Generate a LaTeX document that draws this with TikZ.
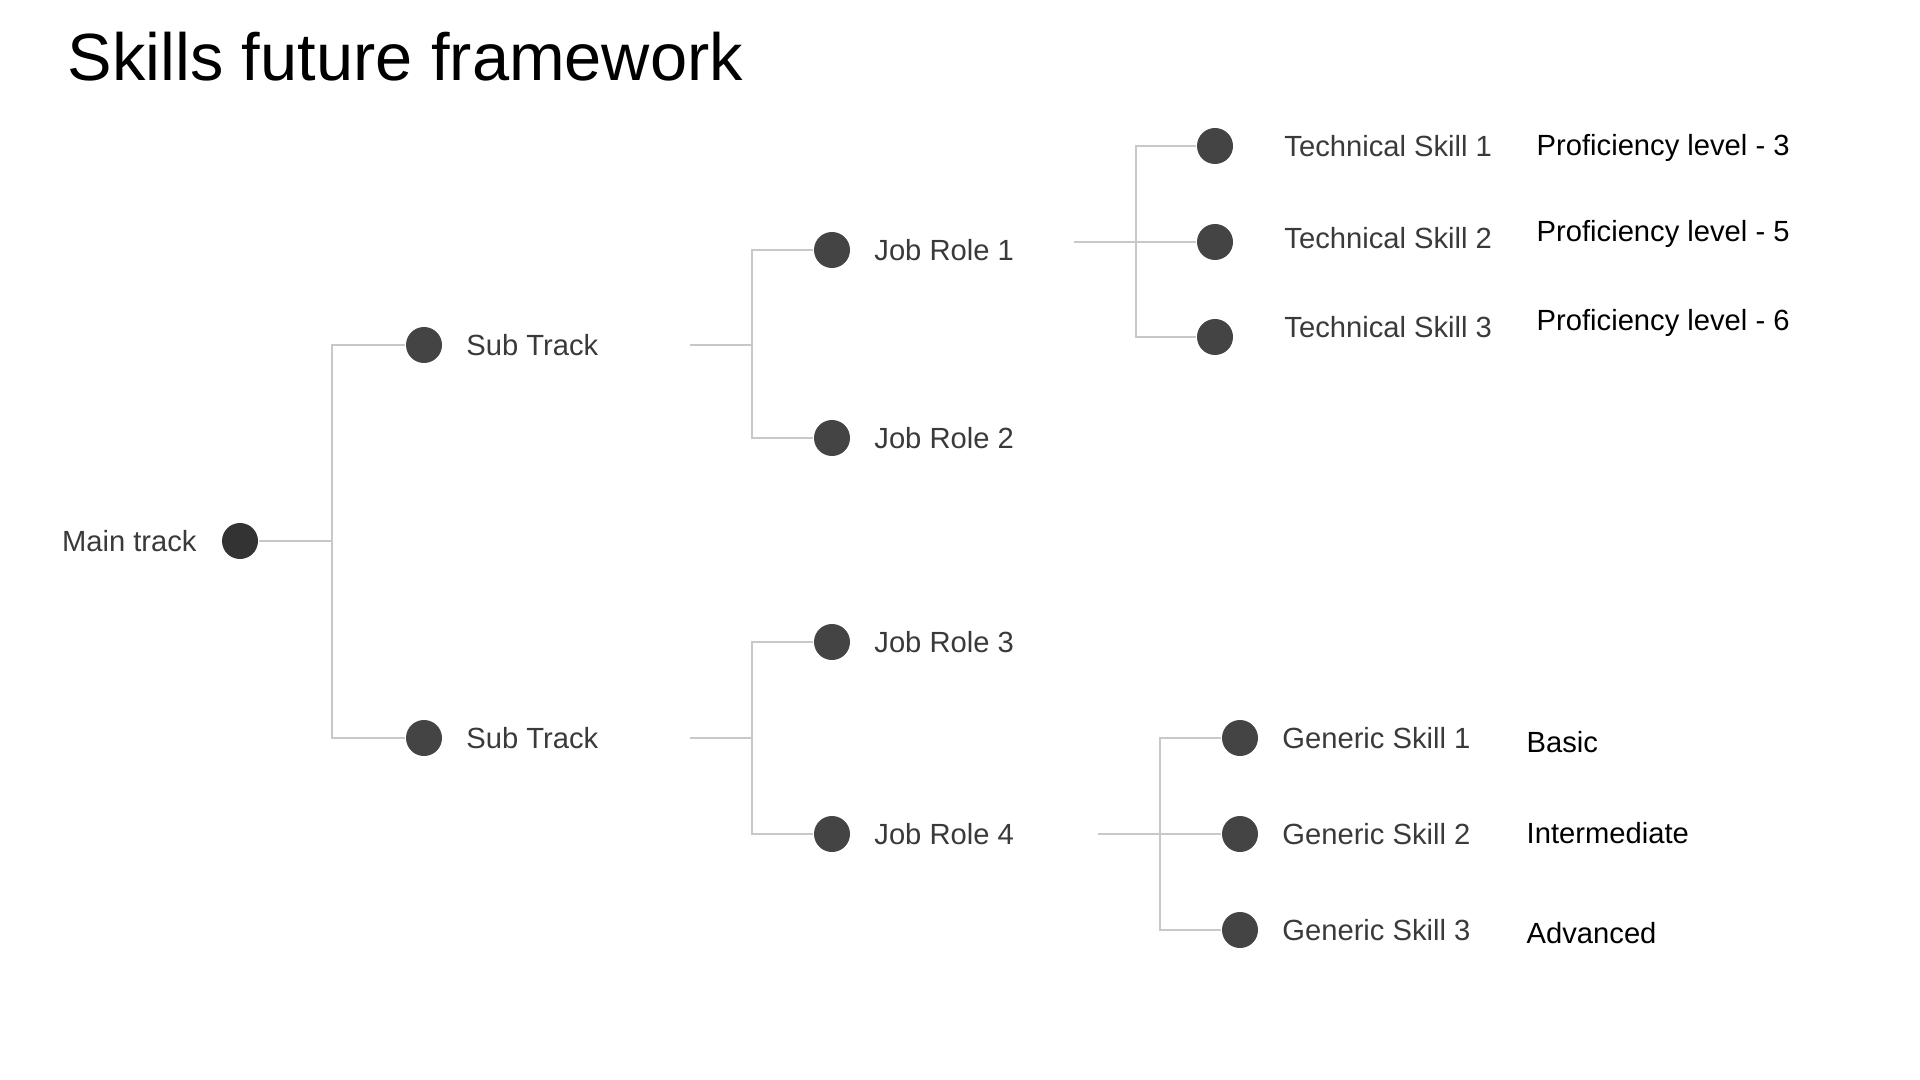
\documentclass[tikz,border=0pt]{standalone}
\usepackage{fontspec}
\setmainfont{Liberation Sans}
\usepackage{tikz}
\usetikzlibrary{positioning}
\definecolor{dotgray}{HTML}{444444}
\definecolor{dotdark}{HTML}{333333}
\definecolor{linkgray}{HTML}{C8C8C8}
\definecolor{txtgray}{HTML}{3A3A3A}

\begin{document}
\begin{tikzpicture}[
    dot/.style={circle,fill=dotgray,minimum size=0.36cm,inner sep=0},
    lbl/.style={inner sep=0,text=txtgray,font=\fontsize{8.3}{10}\selectfont},
    lvl/.style={inner sep=0,anchor=base west,text=black,font=\fontsize{8.3}{10}\selectfont},
    link/.style={draw=linkgray,line width=0.7pt}]
    \useasboundingbox (0,0) rectangle (19.2,-10.8);
    \node[anchor=base west,inner sep=0,font=\fontsize{19}{23}\selectfont] (title) at (0.67,-0.81) {Skills future framework};
    \node[dot,fill=dotdark] (mt) at (2.40,-5.41) {};
    \node[lbl,left=0.24cm of mt] (mtl) {Main track};
    \node[dot] (st1) at (4.24,-3.45) {};
    \node[dot] (st2) at (4.24,-7.38) {};
    \node[lbl,right=0.23cm of st1] (st1l) {Sub Track};
    \node[lbl,right=0.23cm of st2] (st2l) {Sub Track};
    \node[dot] (jr1) at (8.32,-2.50) {};
    \node[dot] (jr2) at (8.32,-4.38) {};
    \node[dot] (jr3) at (8.32,-6.42) {};
    \node[dot] (jr4) at (8.32,-8.34) {};
    \node[lbl,right=0.23cm of jr1] (jr1l) {Job Role 1};
    \node[lbl,right=0.23cm of jr2] (jr2l) {Job Role 2};
    \node[lbl,right=0.23cm of jr3] (jr3l) {Job Role 3};
    \node[lbl,right=0.23cm of jr4] (jr4l) {Job Role 4};
    \node[dot] (ts1) at (12.15,-1.46) {};
    \node[dot] (ts2) at (12.15,-2.42) {};
    \node[dot] (ts3) at (12.15,-3.37) {};
    \node[lbl,right=0.50cm of ts1] (ts1l) {Technical Skill 1};
    \node[lbl,right=0.50cm of ts2,yshift=0.04cm] (ts2l) {Technical Skill 2};
    \node[lbl,right=0.50cm of ts3,yshift=0.10cm] (ts3l) {Technical Skill 3};
    \node[dot] (gs1) at (12.40,-7.38) {};
    \node[dot] (gs2) at (12.40,-8.34) {};
    \node[dot] (gs3) at (12.40,-9.30) {};
    \node[lbl,right=0.23cm of gs1] (gs1l) {Generic Skill 1};
    \node[lbl,right=0.23cm of gs2] (gs2l) {Generic Skill 2};
    \node[lbl,right=0.23cm of gs3] (gs3l) {Generic Skill 3};
    \node[lvl] (pl1) at (15.36,-1.56) {Proficiency level - 3};
    \node[lvl] (pl2) at (15.36,-2.42) {Proficiency level - 5};
    \node[lvl] (pl3) at (15.36,-3.31) {Proficiency level - 6};
    \node[lvl] (gl1) at (15.26,-7.52) {Basic};
    \node[lvl] (gl2) at (15.26,-8.43) {Intermediate};
    \node[lvl] (gl3) at (15.26,-9.43) {Advanced};
    \coordinate (mtj) at (3.32,-5.41);
    \coordinate (st1o) at (6.90,-3.45);
    \coordinate (st1j) at (7.52,-3.45);
    \coordinate (st2o) at (6.90,-7.38);
    \coordinate (st2j) at (7.52,-7.38);
    \coordinate (jr1o) at (10.74,-2.42);
    \coordinate (jr1j) at (11.36,-2.42);
    \coordinate (jr4o) at (10.98,-8.34);
    \coordinate (jr4j) at (11.60,-8.34);
    \draw[link] (mt) -- (mtj);
    \draw[link] (st1) -| (mtj) |- (st2);
    \draw[link] (st1o) -- (st1j);
    \draw[link] (jr1) -| (st1j) |- (jr2);
    \draw[link] (st2o) -- (st2j);
    \draw[link] (jr3) -| (st2j) |- (jr4);
    \draw[link] (jr1o) -- (ts2);
    \draw[link] (ts1) -| (jr1j) |- (ts3);
    \draw[link] (jr4o) -- (gs2);
    \draw[link] (gs1) -| (jr4j) |- (gs3);
\end{tikzpicture}
\end{document}
